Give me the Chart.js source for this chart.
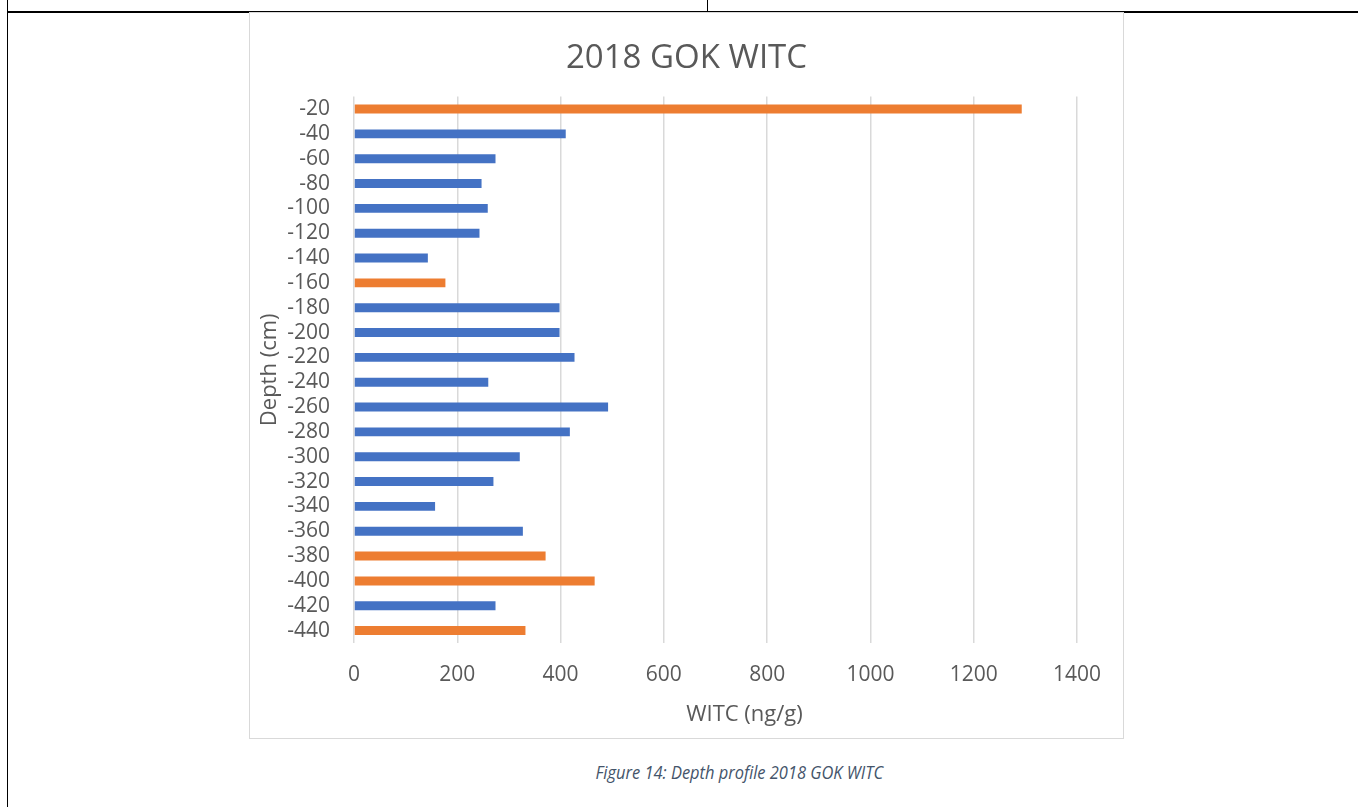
<!DOCTYPE html>
<html>
<head>
<meta charset="utf-8">
<title>2018 GOK WITC</title>
<script src="https://cdn.jsdelivr.net/npm/chart.js@4/dist/chart.umd.min.js"></script>
<style>
  html, body { margin: 0; padding: 0; background: #fff; }
  body { width: 1358px; height: 807px; position: relative; overflow: hidden; font-family: "Open Sans", sans-serif; }
  .rule { position: absolute; background: #000; }
  #box { position: absolute; left: 249px; top: 12px; width: 873px; height: 725px; border: 1px solid #d9d9d9; background: #fff; }
  #box canvas { display: block; }
  #caption { position: absolute; left: 0; width: 1478px; top: 759px; text-align: center; }
  #caption span { display: inline-block; font-style: italic; font-size: 19px; color: #44546A; transform: scaleX(0.865); }
</style>
</head>
<body>
<div class="rule" style="left:7px; top:0; width:1px; height:807px;"></div>
<div class="rule" style="left:707px; top:0; width:1px; height:12px;"></div>
<div class="rule" style="left:7px; top:11px; width:1351px; height:2px;"></div>
<div id="box"><canvas id="myChart" width="873" height="725"></canvas></div>
<div id="caption"><span>Figure 14: Depth profile 2018 GOK WITC</span></div>
<script>
const depths = ['-20', '-40', '-60', '-80', '-100', '-120', '-140', '-160', '-180', '-200', '-220',
  '-240', '-260', '-280', '-300', '-320', '-340', '-360', '-380', '-400', '-420', '-440'];
const witc = [1293, 410, 274, 247, 259, 243, 143, 177, 398, 398, 427,
  260, 492, 418, 321, 270, 157, 327, 371, 466, 274, 332];
// samples shown in orange
const flagged = ['-20', '-160', '-380', '-400', '-440'];
const xTicks = [0, 200, 400, 600, 800, 1000, 1200, 1400];

const BLUE = '#4472C4';
const ORANGE = '#ED7D31';
const GREY = '#595959';

// x axis title sits a little right of the plot centre
const xTitle = {
  id: 'xTitle',
  afterDraw(chart) {
    const {ctx, chartArea} = chart;
    ctx.save();
    ctx.font = '22px "Open Sans"';
    ctx.fillStyle = GREY;
    ctx.textAlign = 'center';
    ctx.textBaseline = 'middle';
    ctx.fillText('WITC (ng/g)', (chartArea.left + chartArea.right) / 2 + 29, chartArea.bottom + 72);
    ctx.restore();
  }
};

const ctx = document.getElementById('myChart');
new Chart(ctx, {
  type: 'bar',
  data: {
    labels: depths,
    datasets: [{
      label: 'WITC',
      data: witc,
      backgroundColor: depths.map(d => flagged.includes(d) ? ORANGE : BLUE),
      barPercentage: 0.36,
      categoryPercentage: 1
    }]
  },
  plugins: [xTitle],
  options: {
    indexAxis: 'y',
    responsive: false,
    animation: false,
    layout: { padding: 0 },
    plugins: {
      legend: { display: false },
      tooltip: { enabled: false },
      title: {
        display: true,
        text: '2018 GOK WITC',
        color: GREY,
        font: { family: 'Open Sans', size: 33, weight: 'normal', lineHeight: 1.2 },
        padding: { top: 26, bottom: 18 }
      }
    },
    scales: {
      x: {
        min: 0,
        max: 1400,
        afterBuildTicks: s => { s.ticks = xTicks.map(v => ({ value: v })); },
        afterFit: s => { s.height = 95; s.paddingRight = 46; },
        border: { display: false },
        grid: { color: '#d9d9d9', lineWidth: 1.5, drawTicks: false },
        ticks: {
          color: GREY,
          padding: 19,
          font: { family: 'Open Sans', size: 21 },
          callback: v => String(v)
        }
      },
      y: {
        afterFit: s => { s.width = 104; },
        border: { display: false },
        grid: { display: false, drawTicks: false },
        ticks: {
          color: GREY,
          padding: 24,
          autoSkip: false,
          font: { family: 'Open Sans', size: 21 }
        },
        title: {
          display: true,
          text: 'Depth (cm)',
          color: GREY,
          font: { family: 'Open Sans', size: 22, lineHeight: 1.2 },
          padding: { top: 7, bottom: 0 }
        }
      }
    }
  }
});
</script>
</body>
</html>
